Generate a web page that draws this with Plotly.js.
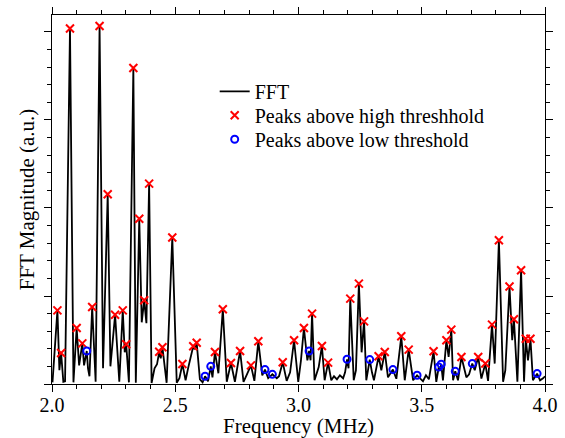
<!DOCTYPE html>
<html>
<head>
<meta charset="utf-8">
<script src="https://cdn.plot.ly/plotly-3.0.1.min.js"></script>
<style>html,body{margin:0;padding:0;background:#fff;}#chart{width:565px;height:438px;}</style>
</head>
<body>
<div id="chart"></div>
<script>
// FFT spectrum (frequency in MHz, magnitude in a.u.)
var freq = [2.002,2.022,2.030,2.037,2.046,2.053,2.073,2.087,2.100,2.110,2.123,2.130,2.141,2.146,2.152,2.163,2.177,2.193,2.207,2.226,2.237,2.256,2.273,2.287,2.295,2.301,2.312,2.330,2.340,2.354,2.364,2.374,2.383,2.394,2.404,2.416,2.426,2.435,2.441,2.448,2.465,2.488,2.506,2.517,2.529,2.542,2.552,2.573,2.579,2.587,2.600,2.611,2.621,2.633,2.644,2.651,2.661,2.675,2.693,2.709,2.726,2.742,2.763,2.777,2.789,2.807,2.821,2.837,2.853,2.864,2.877,2.894,2.912,2.921,2.936,2.952,2.966,2.982,2.999,3.010,3.022,3.036,3.043,3.049,3.055,3.065,3.082,3.095,3.106,3.120,3.133,3.144,3.156,3.168,3.181,3.189,3.197,3.203,3.210,3.224,3.233,3.245,3.256,3.266,3.275,3.289,3.298,3.306,3.325,3.336,3.350,3.363,3.383,3.397,3.417,3.431,3.447,3.465,3.481,3.493,3.505,3.517,3.529,3.548,3.559,3.569,3.574,3.579,3.586,3.600,3.609,3.620,3.627,3.636,3.647,3.661,3.681,3.692,3.705,3.715,3.729,3.742,3.758,3.769,3.785,3.796,3.813,3.830,3.839,3.856,3.867,3.874,3.888,3.903,3.915,3.922,3.931,3.941,3.951,3.968,3.980,3.992,4.000];
var mag = [0.019,0.837,0.156,0.352,0.025,0.031,4.039,0.019,0.636,0.212,0.462,0.212,0.375,0.178,0.088,0.875,0.025,4.068,0.178,2.156,0.201,0.786,0.025,0.837,0.360,0.451,0.019,3.591,0.014,1.877,0.701,0.951,0.690,2.277,0.011,0.178,0.224,0.366,0.292,0.417,0.014,1.664,0.014,0.065,0.227,0.042,0.178,0.428,0.394,0.468,0.053,0.019,0.088,0.031,0.201,0.076,0.364,0.122,0.849,0.025,0.239,0.025,0.375,0.025,0.099,0.212,0.036,0.485,0.099,0.164,0.065,0.110,0.065,0.088,0.247,0.036,0.133,0.497,0.025,0.269,0.636,0.269,0.375,0.269,0.800,0.042,0.193,0.432,0.042,0.243,0.042,0.088,0.053,0.099,0.065,0.133,0.281,0.178,0.970,0.042,0.156,1.141,0.360,0.712,0.042,0.277,0.133,0.042,0.315,0.156,0.364,0.076,0.164,0.059,0.542,0.042,0.391,0.042,0.099,0.065,0.031,0.099,0.053,0.372,0.025,0.193,0.156,0.224,0.042,0.497,0.307,0.618,0.042,0.144,0.042,0.307,0.076,0.110,0.232,0.156,0.307,0.061,0.232,0.036,0.675,0.232,1.633,0.025,0.156,1.107,0.497,0.735,0.025,1.292,0.025,0.514,0.269,0.514,0.042,0.118,0.042,0.065,0.088];
// Peaks above high threshold
var highFreq = [2.022,2.037,2.073,2.100,2.123,2.163,2.193,2.226,2.256,2.287,2.301,2.330,2.354,2.374,2.394,2.435,2.448,2.488,2.529,2.573,2.587,2.661,2.693,2.726,2.763,2.807,2.837,2.936,2.982,3.022,3.055,3.095,3.120,3.210,3.245,3.266,3.325,3.350,3.417,3.447,3.548,3.600,3.620,3.661,3.729,3.758,3.785,3.813,3.856,3.874,3.903,3.922,3.941];
var highMag = [0.837,0.352,4.039,0.636,0.462,0.875,4.068,2.156,0.786,0.837,0.451,3.591,1.877,0.951,2.277,0.366,0.417,1.664,0.227,0.428,0.468,0.364,0.849,0.239,0.375,0.212,0.485,0.247,0.497,0.636,0.800,0.432,0.243,0.970,1.141,0.712,0.315,0.364,0.542,0.391,0.372,0.497,0.618,0.307,0.307,0.232,0.675,1.633,1.107,0.735,1.292,0.514,0.514];
// Peaks above low threshold
var lowFreq = [2.141,2.621,2.644,2.864,2.894,3.043,3.197,3.289,3.383,3.481,3.569,3.579,3.636,3.705,3.968];
var lowMag = [0.375,0.088,0.201,0.164,0.110,0.375,0.281,0.277,0.164,0.099,0.193,0.224,0.144,0.232,0.118];

var serif = 'Liberation Serif, Times New Roman, serif';

var traces = [
  {x: freq, y: mag, type: 'scatter', mode: 'lines', name: 'FFT', legend: 'legend',
   line: {color: '#000', width: 1.8}},
  {x: highFreq, y: highMag, type: 'scatter', mode: 'markers', name: 'Peaks above high threshhold', legend: 'legend2',
   marker: {symbol: 'x-thin', size: 8, color: '#ff0000', line: {color: '#ff0000', width: 2}}},
  {x: lowFreq, y: lowMag, type: 'scatter', mode: 'markers', name: 'Peaks above low threshold', legend: 'legend3',
   marker: {symbol: 'circle-open', size: 7, color: '#0000ff', line: {color: '#0000ff', width: 2}}}
];

function leg(y) {
  return {x: 0.33, y: y, xanchor: 'left', yanchor: 'top',
    bgcolor: 'rgba(0,0,0,0)', borderwidth: 0,
    font: {family: serif, size: 20, color: '#000'}};
}

var layout = {
  width: 565, height: 438,
  margin: {l: 52, r: 20, t: 15, b: 54, pad: 0},
  paper_bgcolor: '#fff', plot_bgcolor: '#fff',
  showlegend: true,
  font: {family: serif, color: '#000'},
  xaxis: {
    range: [2, 4], dtick: 0.5, tick0: 2, tickformat: '.1f',
    ticks: 'outside', ticklen: 7, tickwidth: 1, tickcolor: '#000',
    minor: {dtick: 0.1, ticks: 'outside', ticklen: 4, tickcolor: '#000'},
    showline: true, linecolor: '#000', linewidth: 1, mirror: 'allticks',
    showgrid: false, zeroline: false, ticklabelstandoff: -4,
    tickfont: {family: serif, size: 20, color: '#000'},
    title: {text: 'Frequency (MHz)', font: {family: serif, size: 21, color: '#000'}, standoff: 2}
  },
  yaxis: {
    range: [0, 4.193], dtick: 1, tick0: 0,
    ticks: 'outside', ticklen: 7, tickwidth: 1, tickcolor: '#000',
    minor: {dtick: 0.2, ticks: 'outside', ticklen: 4, tickcolor: '#000'},
    showline: true, linecolor: '#000', linewidth: 1, mirror: 'allticks',
    showgrid: false, zeroline: false, showticklabels: false,
    title: {text: 'FFT Magnitude (a.u.)', font: {family: serif, size: 21, color: '#000'}, standoff: 3}
  },
  legend: leg(0.846),
  legend2: leg(0.781),
  legend3: leg(0.716)
};

Plotly.newPlot('chart', traces, layout, {displayModeBar: false, staticPlot: true});
</script>
</body>
</html>
